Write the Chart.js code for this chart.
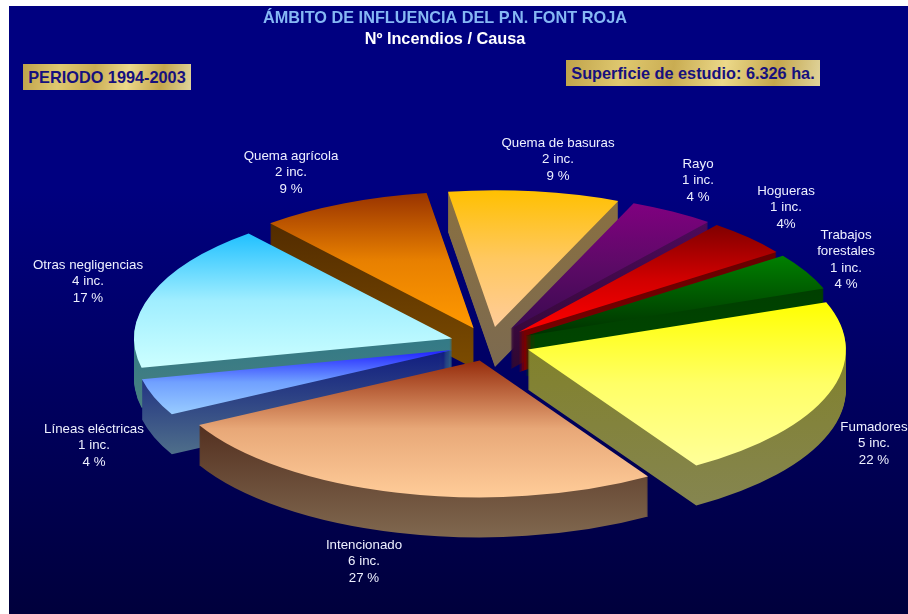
<!DOCTYPE html>
<html lang="es">
<head>
<meta charset="utf-8">
<title>Ámbito de influencia del P.N. Font Roja</title>
<script src="https://cdn.jsdelivr.net/npm/chart.js@4"></script>
<style>
  html,body{margin:0;padding:0;background:#fff;width:908px;height:614px;overflow:hidden;font-family:"Liberation Sans",Arial,sans-serif}
  #wrap{position:relative;width:908px;height:614px}
  canvas{position:absolute;left:0;top:0}
  .tag{position:absolute;box-sizing:border-box;color:#16107e;font-weight:bold;font-size:16.3px;white-space:nowrap;
       background:linear-gradient(100deg,#bfa24a 0%,#e0c970 22%,#c9ac52 42%,#ecd98a 62%,#c4a64c 82%,#e0d49c 100%);
       display:flex;align-items:center;justify-content:center}
</style>
</head>
<body>
<div id="wrap">
  <canvas id="c" width="908" height="614"></canvas>
  <div class="tag" style="left:23px;top:64px;width:168px;height:26px">PERIODO 1994-2003</div>
  <div class="tag" style="left:566px;top:60px;width:254px;height:26px">Superficie de estudio: 6.326 ha.</div>
</div>
<script>
const titleText = "ÁMBITO DE INFLUENCIA DEL P.N. FONT ROJA";
const subtitleText = "Nº Incendios / Causa";
const categories = ["Quema de basuras","Rayo","Hogueras","Trabajos\nforestales","Fumadores","Intencionado","Líneas eléctricas","Otras negligencias","Quema agrícola"];
const incidents = [2,1,1,1,5,6,1,4,2];
const percentText = ["9 %","4 %","4%","4 %","22 %","27 %","4 %","17 %","9 %"];

const faceTop    = ["#ffc000","#800080","#800000","#008000","#ffff00","#962c0c","#2020ff","#20c0ff","#993300"];
const faceMid    = ["#ffc860","#5c0a66","#d00000","#005800","#ffff66","#e8a878","#70a0ff","#a0eeff","#e88000"];
const faceBottom = ["#ffcc99","#3a0a50","#ff0000","#003000","#ffff99","#ffcc99","#99ccff","#ccffff","#ff9900"];
const wallTop    = ["#8a7040","#500a60","#600000","#003c00","#808020","#3a1005","#101c80","#107090","#4a2500"];
const wallBottom = ["#7c6a50","#300830","#800000","#004800","#858550","#80684f","#4f6f8a","#4a8080","#7c4c00"];
const labelCentres = [[558,143],[698,164],[786,191],[846,235],[874,427],[364,545],[94,429],[88,265],[291,156]];

const rotationDeg = -8.5, pieRadius = 318, squash = 0.43, explode = 40, depth = 40;
const pieCentre = [490,344];

function yExtent(a){
  const r=a.outerRadius, s=a.startAngle, e=a.endAngle, T=Math.PI*2;
  let lo=Math.min(0,r*Math.sin(s),r*Math.sin(e)), hi=Math.max(0,r*Math.sin(s),r*Math.sin(e));
  for(let k=-2;k<=2;k++){
    const dn=Math.PI/2+k*T, up=-Math.PI/2+k*T;
    if(dn>=s&&dn<=e) hi=r;
    if(up>=s&&up<=e) lo=-r;
  }
  return [a.y+lo,a.y+hi];
}
function paint(ctx,y0,y1,c0,c1,cm){
  const g=ctx.createLinearGradient(0,y0,0,y1);
  g.addColorStop(0,c0);
  if(cm) g.addColorStop(.5,cm);
  g.addColorStop(1,c1);
  return g;
}
const pie3d = {
  id:'pie3d',
  beforeDraw(chart){
    const ctx=chart.ctx;
    ctx.save();
    const g=ctx.createLinearGradient(0,6,0,614);
    g.addColorStop(0,'#000080');g.addColorStop(.3,'#000080');g.addColorStop(1,'#00003c');
    ctx.fillStyle=g;
    ctx.fillRect(9,6,899,608);
    ctx.restore();
  },
  beforeDatasetsDraw(chart){
    const ctx=chart.ctx, arcs=chart.getDatasetMeta(0).data;
    const order=arcs.map((a,i)=>i).sort((p,q)=>
      Math.sin((arcs[p].startAngle+arcs[p].endAngle)/2)-Math.sin((arcs[q].startAngle+arcs[q].endAngle)/2));
    ctx.save();
    ctx.translate(pieCentre[0],pieCentre[1]);
    ctx.scale(1,squash);
    ctx.translate(-arcs[0].x,-arcs[0].y);
    const dz=depth/squash, base=arcs.map(a=>a.options);
    for(const i of order){
      const a=arcs[i], mid=(a.startAngle+a.endAngle)/2;
      const [y0,y1]=yExtent(a);
      ctx.save();
      ctx.translate(Math.cos(mid)*explode,Math.sin(mid)*explode);
      for(let d=depth;d>=1;d--){
        const off=d/squash;
        ctx.save();
        ctx.translate(0,off);
        a.options={...base[i],borderWidth:0,backgroundColor:paint(ctx,y0-off,y1+dz-off,wallTop[i],wallBottom[i])};
        a.draw(ctx);
        ctx.restore();
      }
      a.options={...base[i],borderWidth:0,backgroundColor:paint(ctx,y0,y1,faceTop[i],faceBottom[i],faceMid[i])};
      a.draw(ctx);
      ctx.restore();
      a.options=base[i];
    }
    ctx.restore();
    return false;
  },
  afterDraw(chart){
    const ctx=chart.ctx;
    ctx.save();
    ctx.font='13.3px "Liberation Sans", Arial, sans-serif';
    ctx.fillStyle='#eef0ff';
    ctx.textAlign='center';
    ctx.textBaseline='middle';
    categories.forEach((name,i)=>{
      const lines=[...name.split("\n"),incidents[i]+" inc.",percentText[i]];
      const [x,y]=labelCentres[i];
      lines.forEach((t,k)=>ctx.fillText(t,x,y+k*16.6));
    });
    ctx.restore();
  }
};
new Chart(document.getElementById('c'),{
  type:'pie',
  data:{labels:categories,datasets:[{data:incidents,backgroundColor:faceTop,borderWidth:0}]},
  options:{
    responsive:false,animation:false,
    rotation:rotationDeg,radius:pieRadius,
    layout:{padding:{right:18,top:0}},
    events:[],
    plugins:{
      legend:{display:false},tooltip:{enabled:false},
      title:{display:true,text:titleText,color:'#86b8f4',font:{family:'"Liberation Sans", Arial, sans-serif',size:16.3,weight:'bold'},padding:{top:9,bottom:1}},
      subtitle:{display:true,text:subtitleText,color:'#ffffff',font:{family:'"Liberation Sans", Arial, sans-serif',size:16.3,weight:'bold'},padding:{top:0,bottom:4}}
    }
  },
  plugins:[pie3d]
});
</script>
</body>
</html>
